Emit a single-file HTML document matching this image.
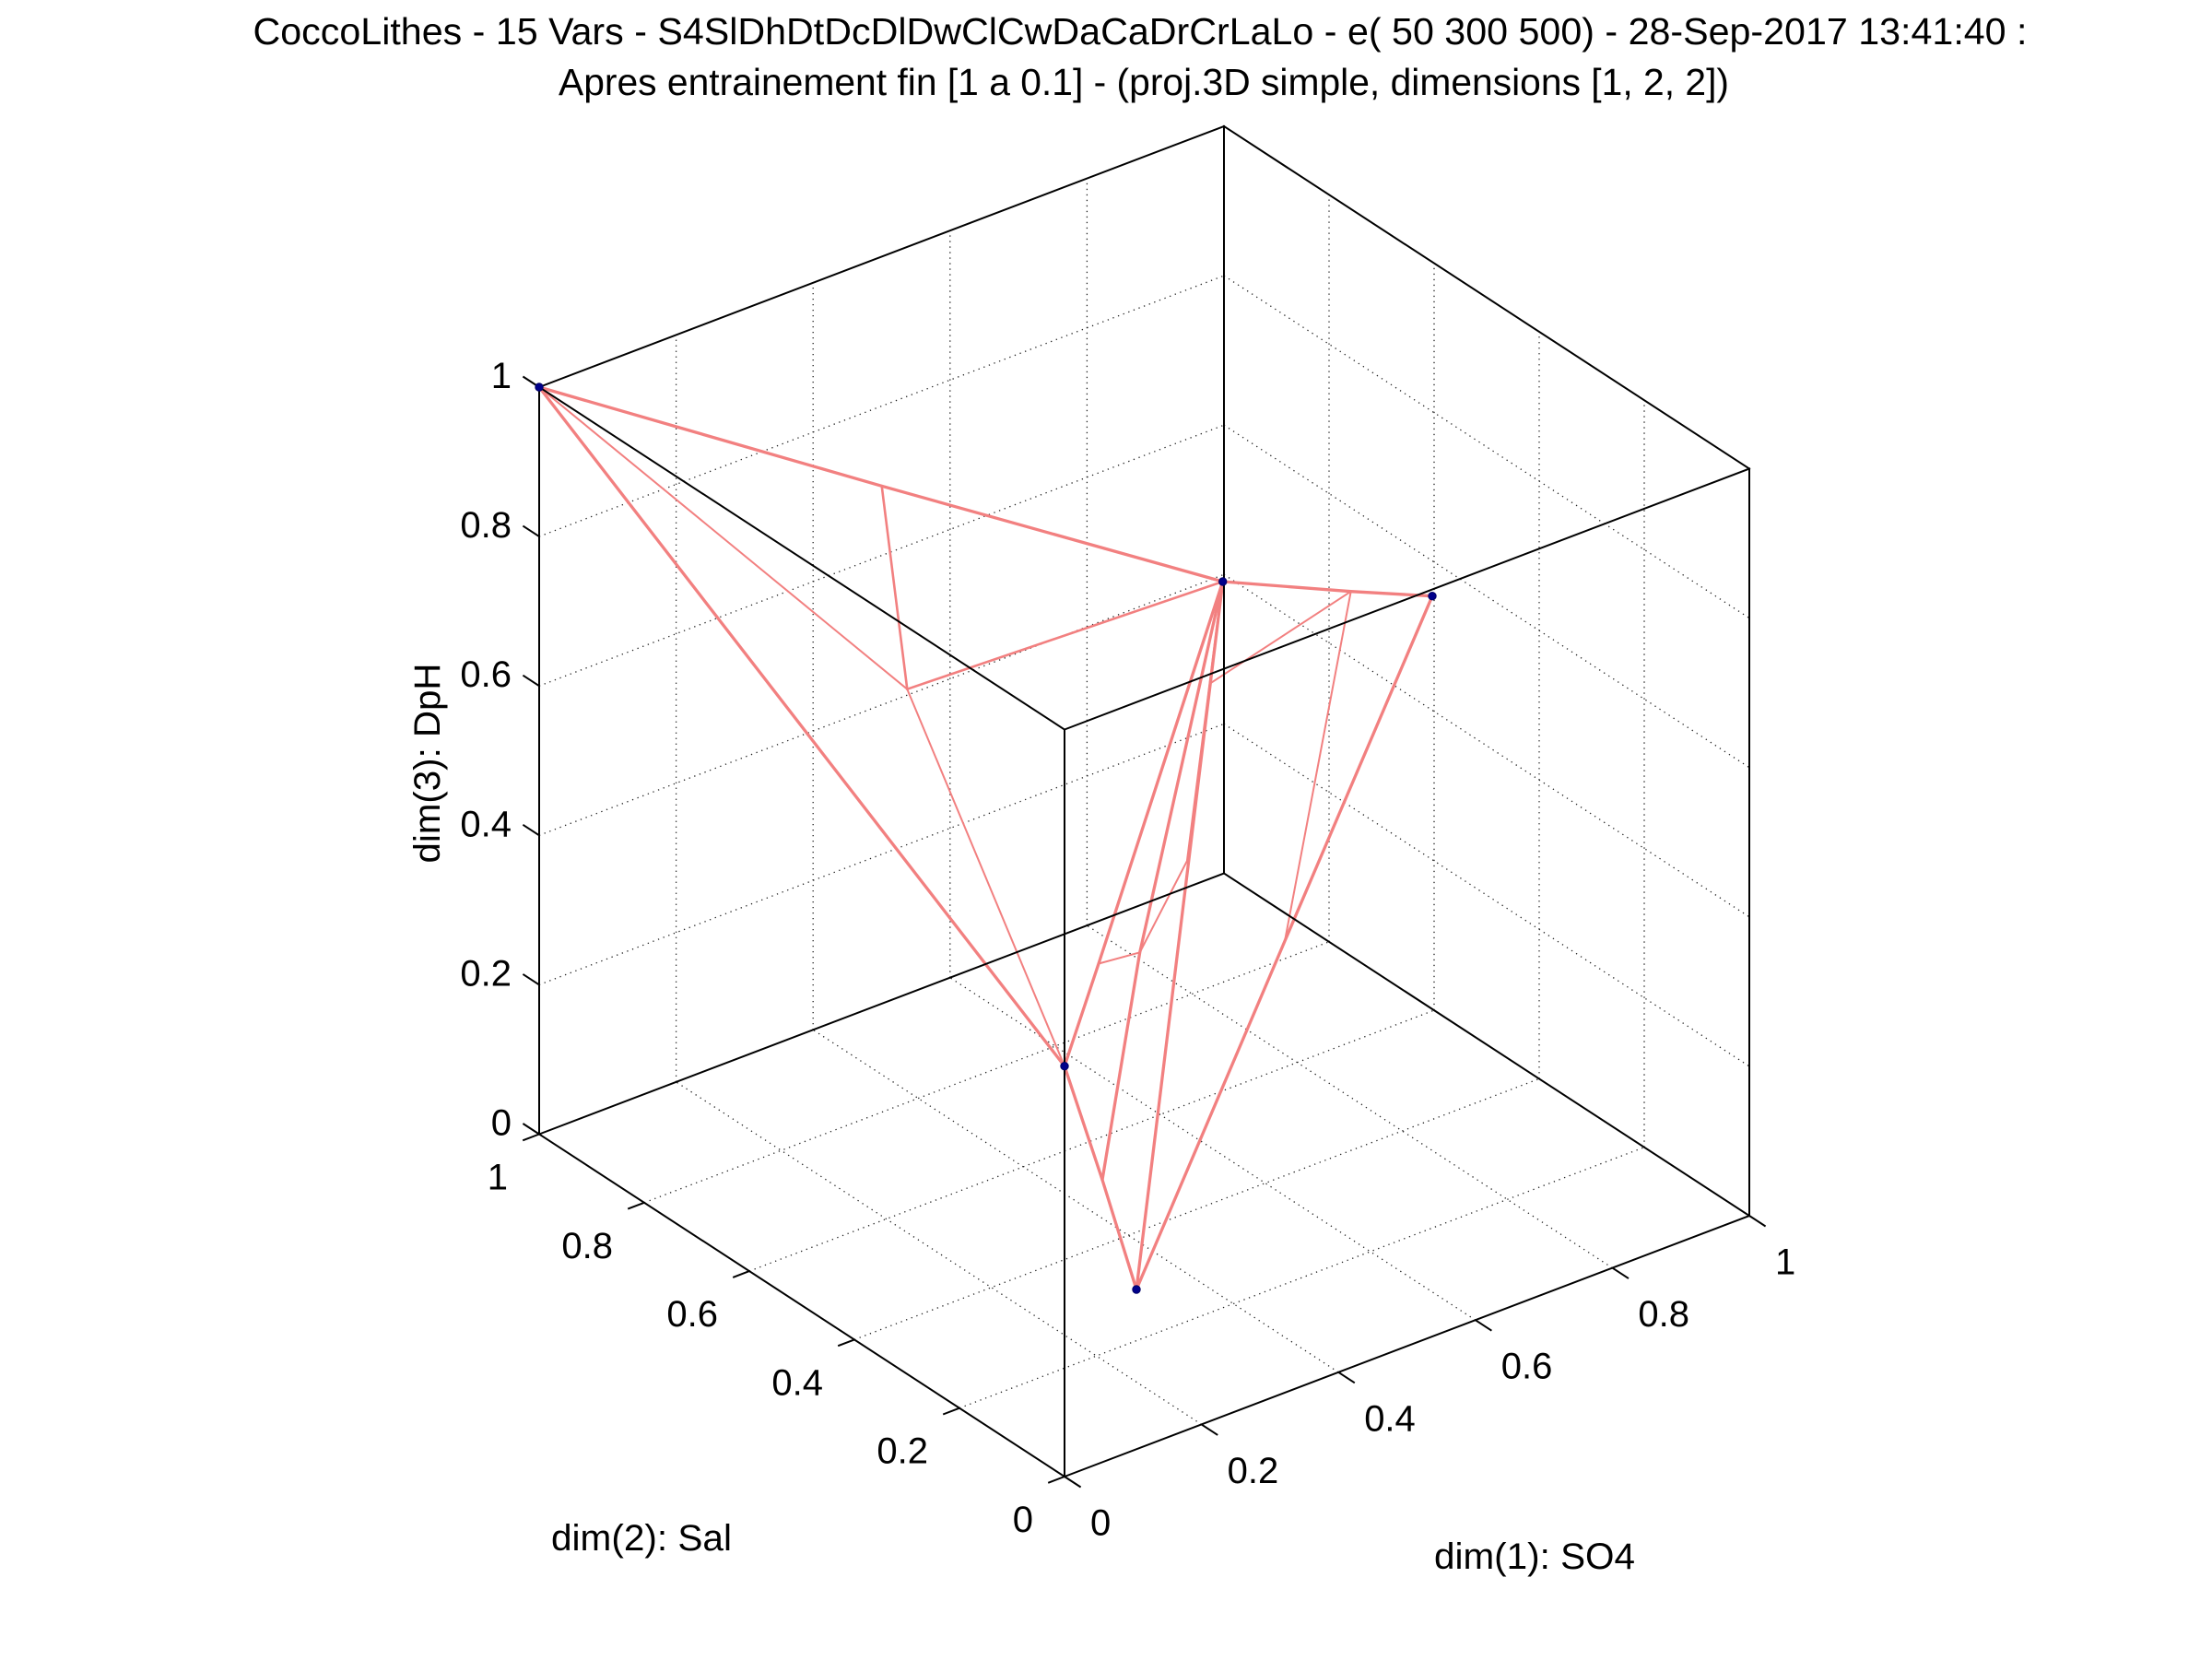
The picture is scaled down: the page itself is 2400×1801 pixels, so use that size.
<!DOCTYPE html>
<html>
<head>
<meta charset="utf-8">
<style>
  html, body { margin:0; padding:0; background:#fff; }
  svg { display:block; }
  text { font-family: "Liberation Sans", "DejaVu Sans", sans-serif; fill:#000; }
</style>
</head>
<body>
<svg width="2400" height="1801" viewBox="0 0 2400 1801" xmlns="http://www.w3.org/2000/svg">
  <rect x="0" y="0" width="2400" height="1801" fill="#fff"/>

  <!-- Title -->
  <text x="1237" y="48" font-size="41" text-anchor="middle" textLength="1925" lengthAdjust="spacingAndGlyphs">CoccoLithes - 15 Vars - S4SlDhDtDcDlDwClCwDaCaDrCrLaLo - e( 50 300 500) - 28-Sep-2017 13:41:40 :</text>
  <text x="1241" y="103" font-size="41" text-anchor="middle" textLength="1270" lengthAdjust="spacingAndGlyphs">Apres entrainement fin [1 a 0.1] - (proj.3D simple, dimensions [1, 2, 2])</text>

  <!-- Grid (dotted) -->
  <g stroke="#222" stroke-width="1.3" stroke-dasharray="1.3 4.7" fill="none">
    <line x1="733.6" y1="1173.9" x2="733.6" y2="363.4"/>
    <line x1="882.2" y1="1117.3" x2="882.2" y2="306.8"/>
    <line x1="1030.8" y1="1060.7" x2="1030.8" y2="250.2"/>
    <line x1="1179.4" y1="1004.1" x2="1179.4" y2="193.6"/>
    <line x1="585" y1="1068.4" x2="1328" y2="785.4"/>
    <line x1="585" y1="906.3" x2="1328" y2="623.3"/>
    <line x1="585" y1="744.2" x2="1328" y2="461.2"/>
    <line x1="585" y1="582.1" x2="1328" y2="299.1"/>
    <line x1="1784" y1="1244.7" x2="1784" y2="434.2"/>
    <line x1="1670" y1="1170.4" x2="1670" y2="359.9"/>
    <line x1="1556" y1="1096.1" x2="1556" y2="285.6"/>
    <line x1="1442" y1="1021.8" x2="1442" y2="211.3"/>
    <line x1="1328" y1="785.4" x2="1898" y2="1156.9"/>
    <line x1="1328" y1="623.3" x2="1898" y2="994.8"/>
    <line x1="1328" y1="461.2" x2="1898" y2="832.7"/>
    <line x1="1328" y1="299.1" x2="1898" y2="670.6"/>
    <line x1="1041" y1="1527.7" x2="1784" y2="1244.7"/>
    <line x1="927" y1="1453.4" x2="1670" y2="1170.4"/>
    <line x1="813" y1="1379.1" x2="1556" y2="1096.1"/>
    <line x1="699" y1="1304.8" x2="1442" y2="1021.8"/>
    <line x1="1303.6" y1="1545.4" x2="733.6" y2="1173.9"/>
    <line x1="1452.2" y1="1488.8" x2="882.2" y2="1117.3"/>
    <line x1="1600.8" y1="1432.2" x2="1030.8" y2="1060.7"/>
    <line x1="1749.4" y1="1375.6" x2="1179.4" y2="1004.1"/>
  </g>

  <!-- Data network (red) -->
  <g stroke="#f28080" fill="none" stroke-linejoin="round" stroke-linecap="round">
    <g stroke-width="3.3">
      <polyline points="585,420 956.7,527.3 1326.7,631"/>
      <polyline points="585,420 1155,1156.7"/>
      <polyline points="1326.7,631 1465.7,641.7 1554,646.7"/>
      <polyline points="1326.7,631 1192,1045.5 1155,1156.7"/>
      <polyline points="1326.7,631 1236.7,1033.3 1196,1280"/>
      <polyline points="1326.7,631 1233,1399"/>
      <polyline points="1155,1156.7 1196,1280 1233,1399"/>
      <polyline points="1554,646.7 1394,1021 1233,1399"/>
    </g>
    <g stroke-width="2.6">
      <polyline points="984.3,747.7 1326.7,631"/>
      <polyline points="956.7,527.3 984.3,747.7"/>
      <polyline points="1326.7,631 1312.7,741.7 1288.3,933.3"/>
    </g>
    <g stroke-width="2">
      <polyline points="585,420 984.3,747.7"/>
      <polyline points="984.3,747.7 1155,1156.7"/>
      <polyline points="1465.7,641.7 1312.7,741.7"/>
      <polyline points="1465.7,641.7 1394,1021"/>
      <polyline points="1288.3,933.3 1236.7,1033.3"/>
      <polyline points="1192,1045.5 1236.7,1033.3"/>
    </g>
  </g>

  <!-- Box edges -->
  <g stroke="#000" stroke-width="2" fill="none" stroke-linecap="square">
    <line x1="1155" y1="1602" x2="585" y2="1230.5"/>
    <line x1="1155" y1="1602" x2="1898" y2="1319"/>
    <line x1="585" y1="1230.5" x2="1328" y2="947.5"/>
    <line x1="1898" y1="1319" x2="1328" y2="947.5"/>
    <line x1="1155" y1="791.5" x2="585" y2="420"/>
    <line x1="1155" y1="791.5" x2="1898" y2="508.5"/>
    <line x1="585" y1="420" x2="1328" y2="137"/>
    <line x1="1898" y1="508.5" x2="1328" y2="137"/>
    <line x1="1155" y1="1602" x2="1155" y2="791.5"/>
    <line x1="585" y1="1230.5" x2="585" y2="420"/>
    <line x1="1898" y1="1319" x2="1898" y2="508.5"/>
    <line x1="1328" y1="947.5" x2="1328" y2="137"/>
  </g>

  <!-- Ticks -->
  <g stroke="#000" stroke-width="2" fill="none">
    <line x1="585" y1="1230.5" x2="567.4" y2="1219"/>
    <line x1="585" y1="1068.4" x2="567.4" y2="1056.9"/>
    <line x1="585" y1="906.3" x2="567.4" y2="894.8"/>
    <line x1="585" y1="744.2" x2="567.4" y2="732.7"/>
    <line x1="585" y1="582.1" x2="567.4" y2="570.6"/>
    <line x1="585" y1="420" x2="567.4" y2="408.5"/>
    <line x1="1155" y1="1602" x2="1137.2" y2="1608.8"/>
    <line x1="1041" y1="1527.7" x2="1023.2" y2="1534.5"/>
    <line x1="927" y1="1453.4" x2="909.2" y2="1460.2"/>
    <line x1="813" y1="1379.1" x2="795.2" y2="1385.9"/>
    <line x1="699" y1="1304.8" x2="681.2" y2="1311.6"/>
    <line x1="585" y1="1230.5" x2="567.2" y2="1237.3"/>
    <line x1="1155" y1="1602" x2="1172.6" y2="1613.5"/>
    <line x1="1303.6" y1="1545.4" x2="1321.2" y2="1556.9"/>
    <line x1="1452.2" y1="1488.8" x2="1469.8" y2="1500.3"/>
    <line x1="1600.8" y1="1432.2" x2="1618.4" y2="1443.7"/>
    <line x1="1749.4" y1="1375.6" x2="1767" y2="1387.1"/>
    <line x1="1898" y1="1319" x2="1915.6" y2="1330.5"/>
  </g>

  <!-- Data markers -->
  <g fill="#00008b" stroke="#000066" stroke-width="1">
    <circle cx="585" cy="420" r="4.2"/>
    <circle cx="1326.7" cy="631" r="4.2"/>
    <circle cx="1554" cy="646.7" r="4.2"/>
    <circle cx="1155" cy="1156.7" r="4.2"/>
    <circle cx="1233" cy="1399" r="4.2"/>
  </g>

  <!-- Z tick labels -->
  <g font-size="40" text-anchor="end">
    <text x="555" y="1231.5">0</text>
    <text x="555" y="1069.4">0.2</text>
    <text x="555" y="907.3">0.4</text>
    <text x="555" y="745.2">0.6</text>
    <text x="555" y="583.1">0.8</text>
    <text x="555" y="421">1</text>
  </g>

  <!-- Sal tick labels -->
  <g font-size="40" text-anchor="end">
    <text x="1121" y="1662">0</text>
    <text x="1007" y="1587.7">0.2</text>
    <text x="893" y="1513.4">0.4</text>
    <text x="779" y="1439.1">0.6</text>
    <text x="665" y="1364.8">0.8</text>
    <text x="551" y="1290.5">1</text>
  </g>

  <!-- SO4 tick labels -->
  <g font-size="40" text-anchor="start">
    <text x="1183" y="1665.5">0</text>
    <text x="1331.6" y="1608.9">0.2</text>
    <text x="1480.2" y="1552.3">0.4</text>
    <text x="1628.8" y="1495.7">0.6</text>
    <text x="1777.4" y="1439.1">0.8</text>
    <text x="1926" y="1382.5">1</text>
  </g>

  <!-- Axis labels -->
  <text x="598" y="1682" font-size="40" textLength="196" lengthAdjust="spacingAndGlyphs">dim(2): Sal</text>
  <text x="1556" y="1702" font-size="40" textLength="218" lengthAdjust="spacingAndGlyphs">dim(1): SO4</text>
  <text x="0" y="0" font-size="40" text-anchor="middle" transform="translate(477,828) rotate(-90)" textLength="217" lengthAdjust="spacingAndGlyphs">dim(3): DpH</text>
</svg>
</body>
</html>
